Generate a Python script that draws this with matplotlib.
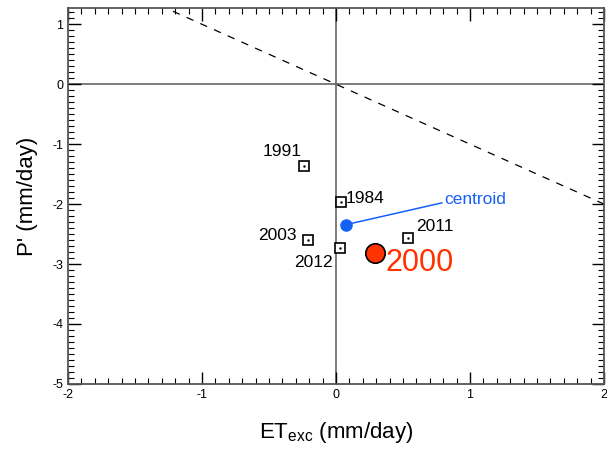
import matplotlib.pyplot as plt
from matplotlib.ticker import MultipleLocator

plt.rcParams['font.family'] = ['Liberation Sans', 'DejaVu Sans']

# yearly points (ET_exc, P')
years = ['1991', '1984', '2003', '2012', '2011']
et_exc = [-0.24, 0.035, -0.21, 0.03, 0.54]
p_anom = [-1.37, -1.97, -2.60, -2.74, -2.57]

# the highlighted year
year_2000 = (0.29, -2.81)

# centroid of all six years
cen_x = (sum(et_exc) + year_2000[0]) / 6
cen_y = (sum(p_anom) + year_2000[1]) / 6

xticks = [-2, -1, 0, 1, 2]
yticks = [-5, -4, -3, -2, -1, 0, 1]

fig = plt.figure(figsize=(6.07, 4.49), dpi=100)
ax = fig.add_axes([0.112, 0.145, 0.883, 0.837])

# zero lines and the 1:-1 line
ax.axhline(0, color='#666666', lw=1.2, zorder=1)
ax.axvline(0, color='#666666', lw=1.2, zorder=1)
ax.plot([-3, 3], [3, -3], color='black', lw=0.9, ls=(0, (6, 6)), zorder=1)

# squares with a small dot inside
ax.plot(et_exc, p_anom, 's', ms=7.5, mfc='white', mec='black', mew=1.2, zorder=3)
ax.plot(et_exc, p_anom, '.', ms=1.5, color='black', zorder=4)

# year labels
lbl = {'1991': (-0.26, -1.13, 'right'),
       '1984': (0.075, -1.90, 'left'),
       '2003': (-0.29, -2.53, 'right'),
       '2012': (-0.025, -2.98, 'right'),
       '2011': (0.60, -2.38, 'left')}
for y in years:
    tx, ty, ha = lbl[y]
    ax.text(tx, ty, y, ha=ha, va='center', fontsize=12.5)

# 2000 in red
ax.plot(*year_2000, 'o', ms=14, mfc='#ff3300', mec='black', mew=1.2, zorder=5)
ax.text(0.37, -2.99, '2000', color='#ff3300', fontsize=22, ha='left', va='center')

# centroid
ax.plot(cen_x, cen_y, 'o', ms=8, color='#1560f5', zorder=5)
ax.plot([cen_x, 0.79], [cen_y, -1.98], color='#1560f5', lw=1.1, zorder=4)
ax.text(0.81, -1.92, 'centroid', color='#1560f5', fontsize=12.5, ha='left', va='center')

# ticks
ax.set_xticks(xticks)
ax.set_yticks(yticks)
ax.set_xticklabels([str(t) for t in xticks])
ax.set_yticklabels([str(t) for t in yticks])
ax.xaxis.set_minor_locator(MultipleLocator(0.1))
ax.yaxis.set_minor_locator(MultipleLocator(0.1))
ax.tick_params(which='both', direction='in', top=True, right=True, labelsize=9)
ax.tick_params(which='major', length=9, width=1)
ax.tick_params(which='minor', length=4, width=0.8)
for s in ax.spines.values():
    s.set_color('#555555')
    s.set_linewidth(1.3)

ax.set_xlim(-2, 2)
ax.set_ylim(-5, 1.27)

ax.set_xlabel(r'ET$_{\mathregular{exc}}$ (mm/day)', fontsize=16, labelpad=14)
ax.set_ylabel("P' (mm/day)", fontsize=16, labelpad=10)

fig.savefig('out.png', dpi=100)
